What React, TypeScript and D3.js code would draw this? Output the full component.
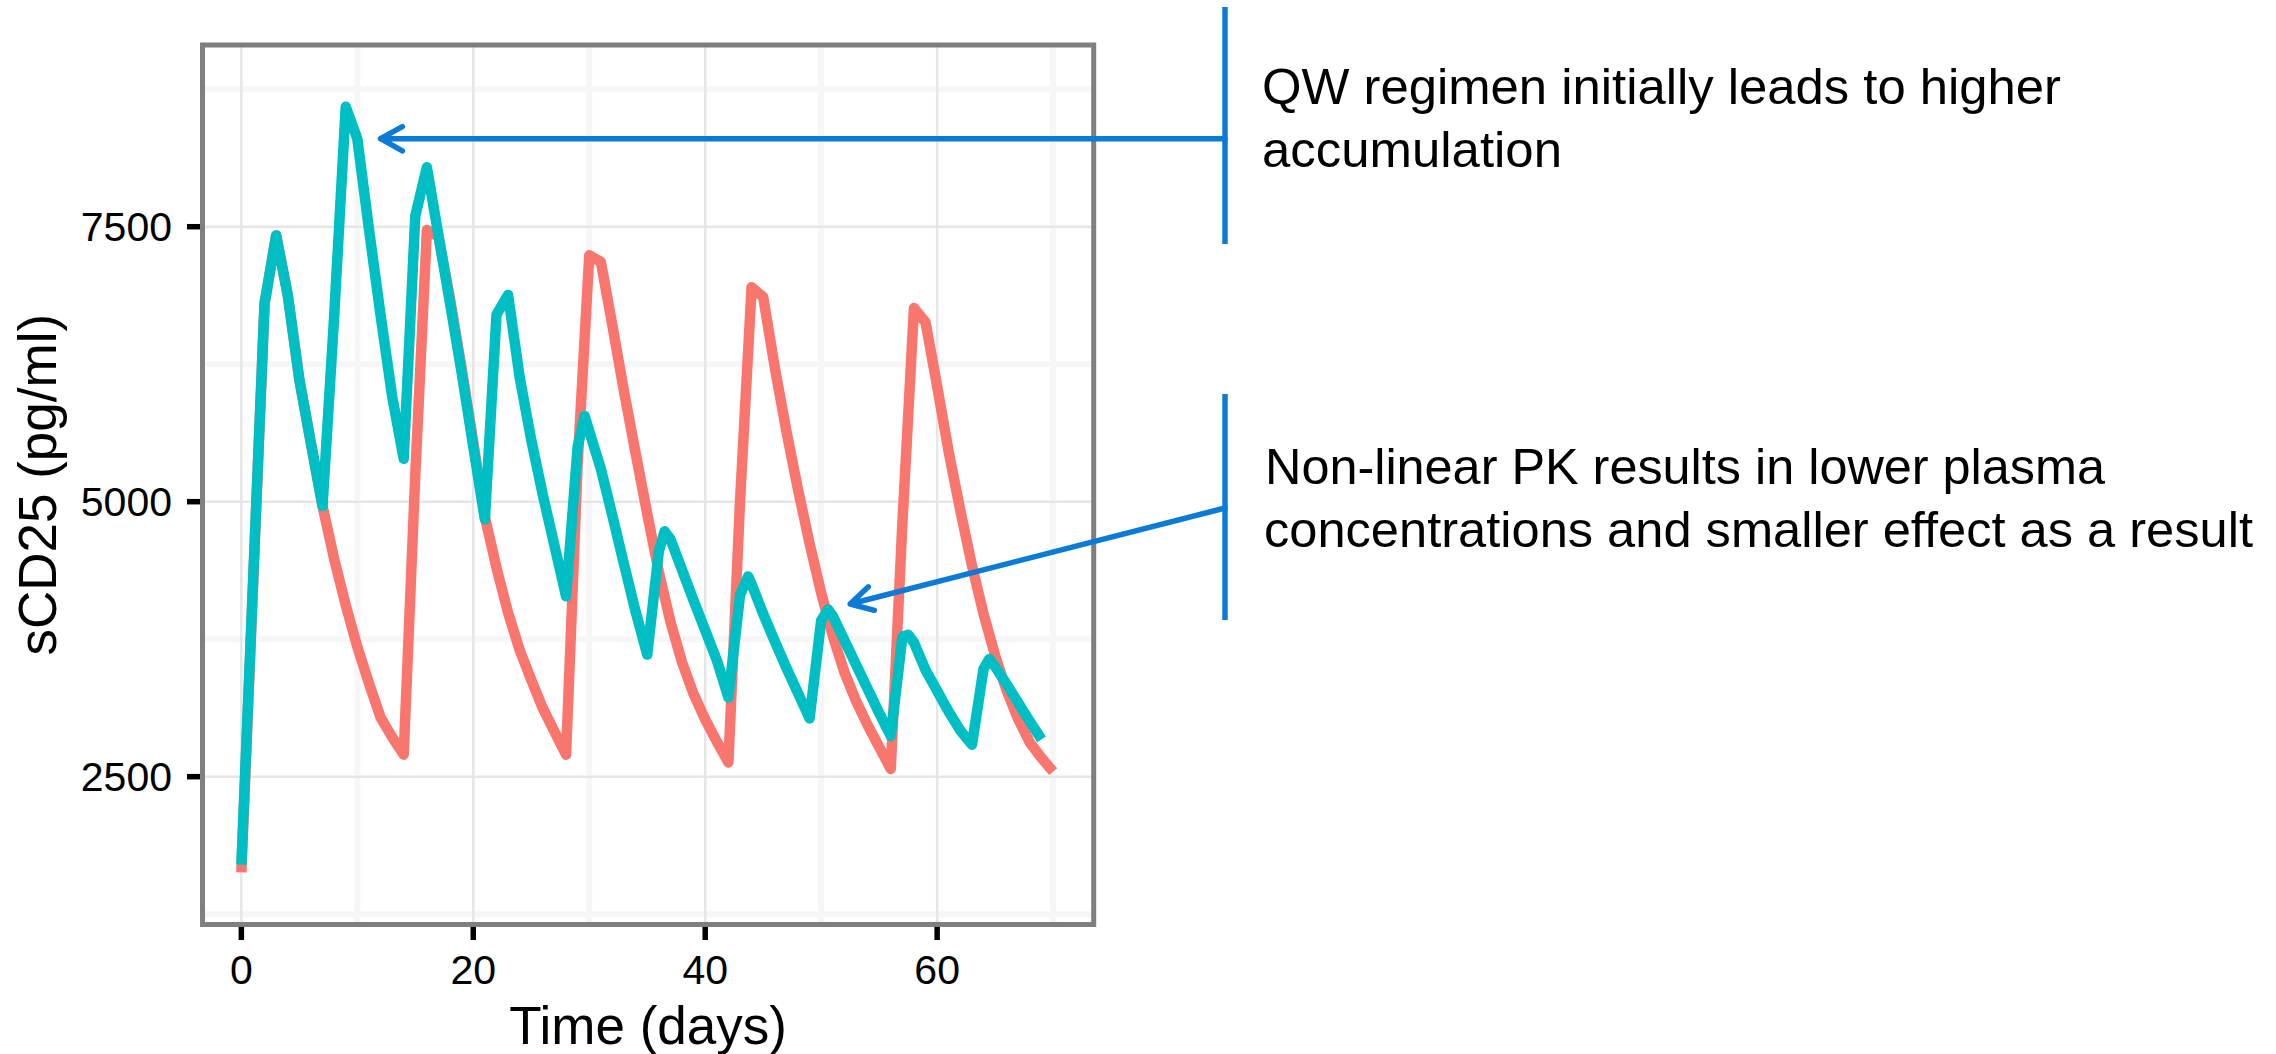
import React from 'react';
import * as d3 from 'd3';

// ---- data ----
const dayTicks = [0, 20, 40, 60];
const minorDayTicks = [10, 30, 50, 70];
const valueTicks = [2500, 5000, 7500];
const minorValueTicks = [1250, 3750, 6250, 8750];

// Q2W regimen (red)
const q2wSeries: [number, number][] = [
  [0, 1630], [1, 4220], [2, 6800], [3, 7420], [4, 6880], [5, 6110], [6, 5530], [7, 4960],
  [8, 4480], [9, 4060], [10, 3680], [11, 3350], [12, 3040], [13, 2860], [14, 2700],
  [15, 5250], [16, 7470], [17, 7410], [18, 6840], [19, 6210], [20, 5540], [21, 4860],
  [22, 4400], [23, 3990], [24, 3650], [25, 3380], [26, 3120], [27, 2910], [28, 2700],
  [29, 5350], [30, 7240], [31, 7180], [32, 6600], [33, 6000], [34, 5440], [35, 4890],
  [36, 4360], [37, 3910], [38, 3540], [39, 3250], [40, 3020], [41, 2820], [42, 2630],
  [43, 5000], [44, 6950], [45, 6860], [46, 6220], [47, 5640], [48, 5110], [49, 4620],
  [50, 4170], [51, 3780], [52, 3450], [53, 3190], [54, 2970], [55, 2770], [56, 2570],
  [57, 4800], [58, 6760], [59, 6630], [60, 6050], [61, 5450], [62, 4920], [63, 4420],
  [64, 3980], [65, 3600], [66, 3280], [67, 3020], [68, 2810], [69, 2670], [70, 2545],
];

// QW regimen (teal)
const qwSeries: [number, number][] = [
  [0, 1700], [1, 4250], [2, 6800], [3, 7420], [4, 6880], [5, 6110], [6, 5530], [7, 4960],
  [8, 6680], [9, 8590], [10, 8300], [11, 7480], [12, 6700], [13, 5960], [14, 5390],
  [15, 7600], [16, 8040], [17, 7420], [18, 6800], [19, 6170], [20, 5500], [21, 4840],
  [22, 6700], [23, 6880], [24, 6130], [25, 5560], [26, 5060], [27, 4600], [28, 4140],
  [29, 5500], [29.6, 5780], [30, 5640], [31, 5300], [32, 4870], [33, 4430], [34, 4000], [35, 3610],
  [36, 4550], [36.5, 4730], [37, 4660], [38, 4380], [39, 4100], [40, 3830], [41, 3560], [42, 3220],
  [43, 4150], [43.7, 4320], [44, 4250], [45, 3980], [46, 3730], [47, 3490], [48, 3260], [49, 3030],
  [50, 3920], [50.6, 4020], [51, 3960], [52, 3740], [53, 3520], [54, 3300], [55, 3080], [56, 2870],
  [57, 3770], [57.5, 3790], [58, 3720], [59, 3470], [60, 3280], [61, 3090], [62, 2920], [63, 2790],
  [64, 3480], [64.5, 3570], [65, 3500], [66, 3340], [67, 3170], [68, 3000], [69, 2840],
];

const seriesColors = ['#F8766D', '#00BFC4'];
const xTitle = 'Time (days)';
const yTitle = 'sCD25 (pg/ml)';

const note1Lines = ['QW regimen initially leads to higher', 'accumulation'];
const note2Lines = ['Non-linear PK results in lower plasma', 'concentrations and smaller effect as a result'];
const note1Target: [number, number] = [12, 8300];
const note2Target: [number, number] = [52.5, 4070];

// ---- layout ----
const W = 2276;
const H = 1054;
const panel = { left: 202.5, right: 1093.7, top: 45, bottom: 924.5 };
const BLUE = '#0B7BD6';

function arrowPath(x1: number, y1: number, x2: number, y2: number, len = 25, ang = Math.PI / 6.2) {
  const a = Math.atan2(y1 - y2, x1 - x2);
  const ax1 = x2 + len * Math.cos(a + ang);
  const ay1 = y2 + len * Math.sin(a + ang);
  const ax2 = x2 + len * Math.cos(a - ang);
  const ay2 = y2 + len * Math.sin(a - ang);
  return `M${x1},${y1}L${x2},${y2}M${ax1},${ay1}L${x2},${y2}L${ax2},${ay2}`;
}

export default function App() {
  const x = d3.scaleLinear().domain([-3.35, 73.5]).range([panel.left, panel.right]);
  const y = d3.scaleLinear().domain([1156, 9152]).range([panel.bottom, panel.top]);
  const line = d3
    .line<[number, number]>()
    .x((d) => x(d[0]))
    .y((d) => y(d[1]));

  const font = "'Liberation Sans', Arial, Helvetica, sans-serif";
  const barX = 1225;
  const textX = 1262;
  const noteSize = 50.5;

  const t1 = [x(note1Target[0]), y(note1Target[1])];
  const t2 = [x(note2Target[0]), y(note2Target[1])];

  return (
    <svg
      width={W}
      height={H}
      viewBox={`0 0 ${W} ${H}`}
      style={{ position: 'absolute', left: 0, top: 0, display: 'block', background: '#fff' }}
    >
      <rect x={0} y={0} width={W} height={H} fill="#fff" />
      {/* minor grid */}
      {minorDayTicks.map((d) => (
        <line key={'mx' + d} x1={x(d)} x2={x(d)} y1={panel.top} y2={panel.bottom} stroke="#F6F6F6" strokeWidth={6} />
      ))}
      {minorValueTicks.map((v) => (
        <line key={'my' + v} x1={panel.left} x2={panel.right} y1={y(v)} y2={y(v)} stroke="#F6F6F6" strokeWidth={6} />
      ))}
      {/* major grid */}
      {dayTicks.map((d) => (
        <line key={'gx' + d} x1={x(d)} x2={x(d)} y1={panel.top} y2={panel.bottom} stroke="#E6E6E6" strokeWidth={2.5} />
      ))}
      {valueTicks.map((v) => (
        <line key={'gy' + v} x1={panel.left} x2={panel.right} y1={y(v)} y2={y(v)} stroke="#E6E6E6" strokeWidth={2.5} />
      ))}

      {/* series */}
      {[q2wSeries, qwSeries].map((s, i) => (
        <path
          key={'s' + i}
          d={line(s) || ''}
          fill="none"
          stroke={seriesColors[i]}
          strokeWidth={10.5}
          strokeLinejoin="round"
          strokeLinecap="butt"
        />
      ))}

      {/* panel border */}
      <rect
        x={panel.left}
        y={panel.top}
        width={panel.right - panel.left}
        height={panel.bottom - panel.top}
        fill="none"
        stroke="#7F7F7F"
        strokeWidth={5}
      />

      {/* axes ticks */}
      {dayTicks.map((d) => (
        <g key={'tx' + d}>
          <line x1={x(d)} x2={x(d)} y1={panel.bottom + 2.5} y2={panel.bottom + 15.5} stroke="#000" strokeWidth={5.5} />
          <text x={x(d)} y={984} textAnchor="middle" fontFamily={font} fontSize={41} fill="#000">
            {d}
          </text>
        </g>
      ))}
      {valueTicks.map((v) => (
        <g key={'ty' + v}>
          <line x1={panel.left - 2.5} x2={panel.left - 15.5} y1={y(v)} y2={y(v)} stroke="#000" strokeWidth={5.5} />
          <text x={172} y={y(v) + 14.5} textAnchor="end" fontFamily={font} fontSize={41} fill="#000">
            {v}
          </text>
        </g>
      ))}

      {/* axis titles */}
      <text x={(panel.left + panel.right) / 2} y={1044} textAnchor="middle" fontFamily={font} fontSize={53} fill="#000">
        {xTitle}
      </text>
      <text
        transform={`translate(56,${(panel.top + panel.bottom) / 2}) rotate(-90)`}
        textAnchor="middle"
        fontFamily={font}
        fontSize={53}
        fill="#000"
      >
        {yTitle}
      </text>

      {/* annotations */}
      <line x1={barX} x2={barX} y1={7} y2={244} stroke={BLUE} strokeWidth={5.5} />
      <line x1={barX} x2={barX} y1={394} y2={620} stroke={BLUE} strokeWidth={5.5} />
      <path d={arrowPath(barX, t1[1], t1[0], t1[1])} fill="none" stroke={BLUE} strokeWidth={5.5} strokeLinecap="round" strokeLinejoin="round" />
      <path d={arrowPath(barX, 508, t2[0], t2[1])} fill="none" stroke={BLUE} strokeWidth={5.5} strokeLinecap="round" strokeLinejoin="round" />

      <text x={textX} y={104} fontFamily={font} fontSize={noteSize} fill="#000" textLength={799} lengthAdjust="spacingAndGlyphs">
        {note1Lines[0]}
      </text>
      <text x={textX} y={167} fontFamily={font} fontSize={noteSize} fill="#000" textLength={300} lengthAdjust="spacingAndGlyphs">
        {note1Lines[1]}
      </text>
      <text x={textX + 3} y={484} fontFamily={font} fontSize={noteSize} fill="#000" textLength={840} lengthAdjust="spacingAndGlyphs">
        {note2Lines[0]}
      </text>
      <text x={textX + 2} y={547} fontFamily={font} fontSize={noteSize} fill="#000" textLength={989} lengthAdjust="spacingAndGlyphs">
        {note2Lines[1]}
      </text>
    </svg>
  );
}
